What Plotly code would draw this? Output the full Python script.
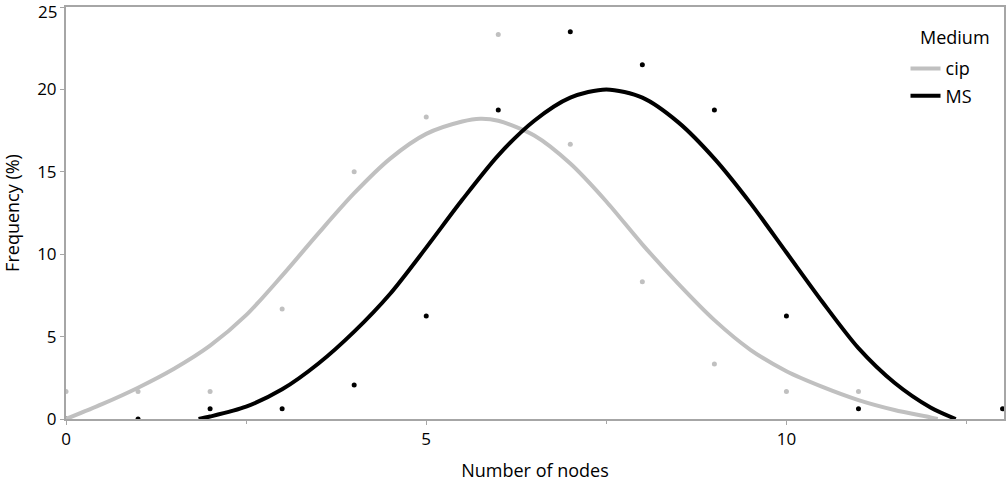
import plotly.graph_objects as go

# Observed frequencies (%)
nodes = [0, 1, 2, 3, 4, 5, 6, 7, 8, 9, 10, 11, 12, 13]
cip_freq = [1.67, 1.67, 1.67, 6.67, 15.0, 18.33, 23.33, 16.67, 8.33, 3.33, 1.67, 1.67, 0.0, None]
ms_freq = [0.0, 0.0, 0.625, 0.625, 2.06, 6.25, 18.75, 23.5, 21.5, 18.75, 6.25, 0.625, 0.0, 0.625]

# Fitted curves
cip_fit_x = [0, 0.5, 1, 1.5, 2, 2.5, 3, 3.5, 4, 4.5, 5, 5.5, 5.75, 6, 6.5, 7, 7.5, 8, 8.5, 9, 9.5, 10, 10.5, 11, 11.5, 12, 12.1]
cip_fit_y = [0, 0.9, 1.9, 3.05, 4.45, 6.3, 8.7, 11.25, 13.7, 15.8, 17.3, 18.05, 18.22, 18.1, 17.2, 15.5, 13.2, 10.6, 8.2, 6.0, 4.2, 2.9, 1.95, 1.15, 0.55, 0.1, 0.0]
ms_fit_x = [1.84, 2.0, 2.5, 3, 3.5, 4, 4.5, 5, 5.5, 6, 6.5, 7, 7.5, 8, 8.5, 9, 9.5, 10, 10.5, 11, 11.5, 12, 12.35]
ms_fit_y = [0, 0.15, 0.75, 1.8, 3.35, 5.3, 7.6, 10.4, 13.3, 16.0, 18.1, 19.5, 20.0, 19.5, 18.0, 15.8, 13.1, 10.1, 7.1, 4.3, 2.2, 0.7, 0.0]

y_ticks = [0, 5, 10, 15, 20, 25]
x_ticks = [0, 5, 10]

GRAY = "#c0c0c0"
BLACK = "#000000"
AXIS = "#a6a6a6"
FONT = "Open Sans"

fig = go.Figure()
fig.add_trace(go.Scatter(x=nodes, y=cip_freq, mode="markers",
                         marker=dict(color=GRAY, size=5), showlegend=False, hoverinfo="skip"))
fig.add_trace(go.Scatter(x=nodes, y=ms_freq, mode="markers",
                         marker=dict(color=BLACK, size=5), showlegend=False, hoverinfo="skip"))
fig.add_trace(go.Scatter(x=cip_fit_x, y=cip_fit_y, mode="lines", name="cip", legendgroup="a",
                         line=dict(color=GRAY, width=4, shape="spline", smoothing=0.8)))
fig.add_trace(go.Scatter(x=ms_fit_x, y=ms_fit_y, mode="lines", name="MS", legendgroup="b",
                         line=dict(color=BLACK, width=4, shape="spline", smoothing=0.8)))

fig.update_layout(
    width=1006, height=482,
    margin=dict(l=66, r=2, t=7, b=63),
    paper_bgcolor="white", plot_bgcolor="white",
    font=dict(family=FONT, size=17, color="black"),
    legend=dict(x=0.895, y=0.895, xanchor="left", yanchor="top",
                bgcolor="rgba(0,0,0,0)", itemwidth=30, tracegroupgap=1,
                traceorder="grouped", font=dict(size=18)),
    annotations=[
        dict(text="Medium", xref="paper", yref="paper", x=0.908, y=0.927,
             xanchor="left", yanchor="middle", showarrow=False, font=dict(size=18)),
        dict(text=str(y_ticks[-1]), xref="paper", yref="y", x=0, y=y_ticks[-1],
             xanchor="right", yanchor="middle", xshift=-7, yshift=-4,
             showarrow=False, font=dict(size=17)),
    ],
)
fig.update_xaxes(
    range=[0, 13.02], tickvals=x_ticks, ticks="outside", ticklen=4, tickcolor=AXIS,
    minor=dict(tickvals=[2.5, 7.5, 12.5], ticks="outside", ticklen=3, tickcolor=AXIS),
    showline=True, linecolor=AXIS, linewidth=2, mirror=True, showgrid=False, zeroline=False,
    title=dict(text="Number of nodes", standoff=16, font=dict(size=18)), tickfont=dict(size=17),
    automargin=False,
)
fig.update_yaxes(
    range=[0, 25], tickvals=y_ticks,
    ticktext=[str(v) for v in y_ticks[:-1]] + [""],
    ticks="outside", ticklen=4, tickcolor=AXIS,
    showline=True, linecolor=AXIS, linewidth=2, mirror=True, showgrid=False, zeroline=False,
    title=dict(text="Frequency (%)", standoff=20, font=dict(size=18)), tickfont=dict(size=17),
    automargin=False,
)

fig.write_html("out.html", config={"displayModeBar": False},
               post_script="document.body.style.margin='0px';")
